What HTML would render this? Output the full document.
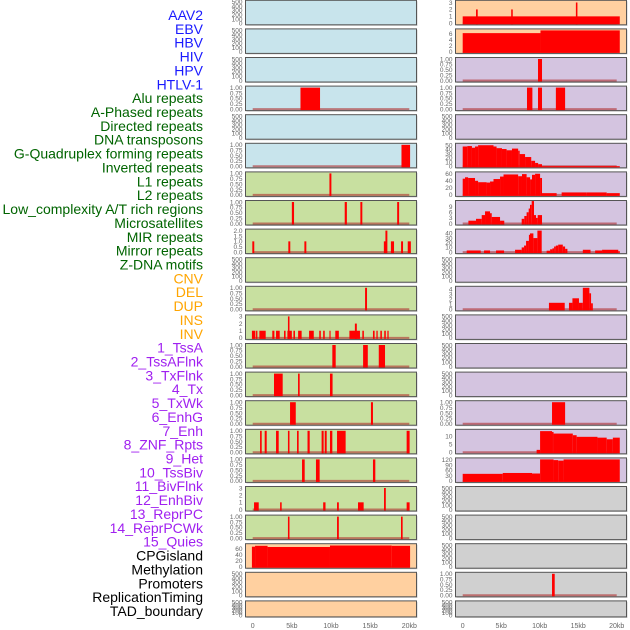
<!DOCTYPE html>
<html><head><meta charset="utf-8"><style>
html,body{margin:0;padding:0;background:#fff;}
svg{display:block;font-family:"Liberation Sans",sans-serif;}
</style></head><body>
<svg id="chart" width="630" height="630" viewBox="0 0 630 630" xmlns="http://www.w3.org/2000/svg"></svg>
<script>
const labels=["AAV2","EBV","HBV","HIV","HPV","HTLV-1","Alu repeats","A-Phased repeats","Directed repeats","DNA transposons","G-Quadruplex forming repeats","Inverted repeats","L1 repeats","L2 repeats","Low_complexity A/T rich regions","Microsatellites","MIR repeats","Mirror repeats","Z-DNA motifs","CNV","DEL","DUP","INS","INV","1_TssA","2_TssAFlnk","3_TxFlnk","4_Tx","5_TxWk","6_EnhG","7_Enh","8_ZNF_Rpts","9_Het","10_TssBiv","11_BivFlnk","12_EnhBiv","13_ReprPC","14_ReprPCWk","15_Quies","CPGisland","Methylation","Promoters","ReplicationTiming","TAD_boundary"];
const labelGroups=[6,13,5,15,5];
const groupColors=["#1a1aff","#006400","#ffa500","#a020f0","#000000"];
const leftBg=["b","b","b","b","b","b","g","g","g","g","g","g","g","g","g","g","g","g","g","o","o","o"];
const rightBg=["o","o","p","p","p","p","p","p","p","p","p","p","p","p","p","p","p","y","y","y","y","y"];
const bgColors={b:"#c8e4ec",g:"#c8e0a0",o:"#ffd0a0",p:"#d4c4e0",y:"#d0d0d0"};
const E="e",U="u",H="h",T="t";
// tick set keys
const tickSets={
 e:{t:["0","100","200","300","400","500"],v:[0,100,200,300,400,500],max:500},
 u:{t:["0.00","0.25","0.50","0.75","1.00"],v:[0,0.25,0.5,0.75,1],max:1},
 h:{t:["0.0","0.5","1.0","1.5","2.0"],v:[0,0.5,1,1.5,2],max:2},
 t:{t:["0","1","2","3"],v:[0,1,2,3],max:3},
 cpg:{t:["0","20","40","60"],v:[0,20,40,60],max:72},
 aav:{t:["0","1","2","3"],v:[0,1,2,3],max:3.1},
 ebv:{t:["0","2","4","6"],v:[0,2,4,6],max:7.1},
 htlv:{t:["0","10","20","30","40","50"],v:[0,10,20,30,40,50],max:51},
 l1:{t:["0","20","40","60"],v:[0,20,40,60],max:61},
 l2:{t:["0","3","6","9"],v:[0,3,6,9],max:11.5},
 low:{t:["0","10","20","30","40"],v:[0,10,20,30,40],max:46},
 del:{t:["0","1","2","3","4"],v:[0,1,2,3,4],max:4.3},
 znf:{t:["0","5","10"],v:[0,5,10],max:13.2},
 het:{t:["0","30","60","90","120"],v:[0,30,60,90,120],max:122}
};
const leftTicks=[E,E,E,U,E,U,U,U,H,E,U,T,U,U,U,U,U,T,U,"cpg",E,E];
const rightTicks=["aav","ebv",U,U,E,"htlv","l1","l2","low",E,"del",E,E,E,U,"znf","het",E,E,E,U,E];
const leftSegs=[[],[],[],[[6.1,8.6,1]],[],[[19.0,20.1,1]],[[9.8,10.05,1]],
[[5.0,5.28,1],[11.75,12.03,1],[13.75,14.0,1],[18.45,18.7,1]],
[[-0.05,0.2,1],[4.55,4.8,1],[6.6,6.85,1],[16.75,17.05,1],[16.95,17.2,2],[17.65,18.05,1],[18.95,19.2,1],[19.8,20.2,1]],
[],[[14.35,14.6,1]],
[[-0.1,0.34,1],[0.43,0.6,1],[0.85,1.66,1],[2.5,2.77,1],[2.98,3.45,1],[4.0,4.2,1],[4.43,5.0,1],[4.5,4.7,3],[5.2,5.4,1],[5.8,6.25,1],[7.2,7.8,1],[8.5,8.7,1],[9.0,9.2,1],[9.8,9.95,1],[10.55,11.0,1],[12.35,13.7,1],[13.05,13.3,2],[14.0,14.2,1],[15.36,15.57,1],[15.8,15.96,1],[16.3,16.5,1],[16.8,17.0,1],[17.2,17.36,1]],
[[10.17,10.6,1],[14.1,14.7,1],[16.1,16.9,1]],
[[2.72,3.83,1],[5.79,6.0,1],[9.87,10.2,1]],
[[4.77,5.5,1],[15.1,15.36,1]],
[[0.94,1.15,1],[1.53,1.79,1],[2.98,3.32,1],[4.5,4.7,1],[5.66,5.87,1],[7.0,7.28,1],[8.8,9.06,1],[9.2,9.45,1],[9.87,10.17,1],[10.77,11.87,1],[19.66,20.04,1]],
[[6.3,6.64,1],[8.08,8.55,1],[15.36,15.66,1]],
[[0.17,0.77,1],[3.5,3.7,1],[9.0,9.3,1],[10.77,11.0,1],[13.45,14.17,1],[16.77,17.0,3],[19.66,20.04,1]],
[[4.5,4.7,1],[10.77,11.0,1],[18.94,19.15,1]],
[[-0.1,0.3,67],[0.3,1.9,70],[1.9,9.87,66],[9.87,17.75,71],[17.75,20.1,70]],
[],[]];
const rightSegs=[
[[0,20.4,1],[1.73,1.95,2],[6.3,6.5,2],[14.7,14.9,3]],
[[0,10.1,6.2],[10.1,20.4,7.1]],
[[9.78,10.3,1]],
[[8.35,9.05,1],[9.78,10.3,1],[12.1,13.3,1]],
[],
[[0,0.6,47],[0.6,1.2,48],[1.2,1.6,44],[1.6,2.0,47],[2.0,4.0,50],[4.0,4.4,47],[4.4,5.1,43],[5.1,5.7,41],[5.7,6.4,38],[6.4,7.2,42],[7.2,7.4,37],[7.4,8.1,29],[8.1,8.9,22],[8.9,9.4,13],[9.4,9.8,8],[9.8,10.3,5],[10.3,20.4,0.3]],
[[0,0.3,46],[0.3,0.7,50],[0.7,1.6,48],[1.6,2.0,40],[2.0,3.1,36],[3.1,3.55,35],[3.55,4.0,38],[4.0,4.85,45],[4.85,5.3,52],[5.3,7.2,58],[7.2,7.7,53],[7.7,8.3,59],[8.3,8.75,50],[8.75,9.0,44],[9.0,9.4,57],[9.4,10.05,60],[10.05,10.3,48],[10.3,12.2,5],[12.85,16.1,7],[16.1,18.7,7],[18.7,20.4,5]],
[[0.74,1.73,1.5],[1.73,2.47,2.5],[2.47,2.9,4.5],[2.9,3.55,6.5],[3.55,3.77,5.5],[3.77,4.85,3.5],[4.85,5.4,1.5],[7.66,8.0,2.5],[8.0,8.3,4],[8.3,8.57,6],[8.57,8.74,8],[8.74,8.96,10],[8.96,9.26,12],[9.26,9.52,4.5],[9.52,9.74,3],[9.74,10.3,4.5]],
[[0.52,2.34,3.5],[2.77,3.55,3.5],[4.33,5.37,3.5],[6.8,7.66,5],[7.66,7.97,10],[7.97,8.23,14],[8.23,8.6,24],[8.6,8.74,37],[8.74,9.18,40],[9.18,9.7,30],[9.7,10.26,46],[10.9,11.35,3],[11.35,11.65,6],[11.65,11.87,8],[11.87,12.1,12],[12.1,12.4,14],[12.4,13.0,16],[13.0,13.3,12],[13.3,13.6,7],[15.6,16.6,5],[17.2,18.1,3.5],[18.1,20.2,5],[20.2,20.4,2]],
[],
[[11.2,13.25,1.3],[13.8,14.25,1.3],[14.25,15.1,2.2],[15.1,15.6,1.3],[15.6,16.45,4.3],[16.45,16.67,3.2],[16.67,16.9,1.2]],
[],[],[],
[[11.6,13.3,1]],
[[9.6,10.05,1.5],[10.05,11.6,13],[11.6,11.8,12.5],[11.8,14.3,11.5],[14.3,14.8,10.5],[14.8,17.5,9.5],[17.5,18.7,9],[18.7,19.5,8],[19.5,20.4,9]],
[[0,5.2,40],[5.2,9.0,45],[9.0,10.05,42],[10.05,11.8,122],[11.8,12.4,118],[12.4,13.1,115],[13.1,20.4,122]],
[],[],[],
[[11.6,11.95,1]],
[]];
const xTicks=[0,5,10,15,20];
const xTickLabels=["0","5kb","10kb","15kb","20kb"];

const NS="http://www.w3.org/2000/svg";
const svg=document.getElementById("chart");
function mk(tag,attrs,parent){const e=document.createElementNS(NS,tag);for(const k in attrs)e.setAttribute(k,attrs[k]);(parent||svg).appendChild(e);return e;}
const cols=[{x0:245.5,w:171,z:252.7,s:7.83,bg:leftBg,ticks:leftTicks,segs:leftSegs,name:"left"},
            {x0:455.5,w:171,z:462.7,s:7.7,bg:rightBg,ticks:rightTicks,segs:rightSegs,name:"right"}];
function rowTop(i){return 0.3+28.6*i;}
function rowH(i){return i===21?16:24.5;}

// labels
let li=0;
labelGroups.forEach((n,g)=>{for(let k=0;k<n;k++){const t=mk("text",{x:203,y:15+13.86*li+5,"text-anchor":"end","font-size":"14",fill:groupColors[g]});


t.textContent=labels[li];li++;}});

cols.forEach(c=>{
 const xs=kb=>c.z+kb*c.s;
 for(let i=0;i<22;i++){
  const top=rowTop(i),h=rowH(i),bot=top+h;
  const g=mk("g",{});
  
  
  mk("rect",{x:c.x0+1,y:top+1,width:c.w,height:h,fill:"#999",opacity:0.5},g);
  mk("rect",{x:c.x0,y:top,width:c.w,height:h,fill:bgColors[c.bg[i]],stroke:"#555","stroke-width":1},g);
  const ts=tickSets[c.ticks[i]];
  const ys=v=>(bot-1.5)-(v/ts.max)*(h-3);
  ts.v.forEach((v,k)=>{const t=mk("text",{x:c.x0-3,y:ys(v)+2.3,"text-anchor":"end","font-size":"6.5",fill:"#666"},g);
   
   
   t.textContent=ts.t[k];});
  const segs=c.segs[i];
  if(segs.length){
   mk("line",{x1:xs(0),x2:xs(20),y1:bot-1.5,y2:bot-1.5,stroke:"#b03030","stroke-width":2,opacity:0.6},g);
   segs.forEach(s=>{const x1=Math.max(xs(s[0]),c.x0+0.5),x2=Math.min(xs(s[1]),c.x0+c.w-0.5);
    const y=Math.max(ys(s[2]),top+0.5);
    const r=mk("rect",{x:x1,y:y,width:Math.max(x2-x1,1),height:bot-0.5-y,fill:"#ff0000"},g);
    
    });
  }
 }
 xTicks.forEach((v,k)=>{const t=mk("text",{x:xs(v),y:628,"text-anchor":"middle","font-size":"7",fill:"#666"});
  
  
  t.textContent=xTickLabels[k];});
});
</script>
</body></html>
